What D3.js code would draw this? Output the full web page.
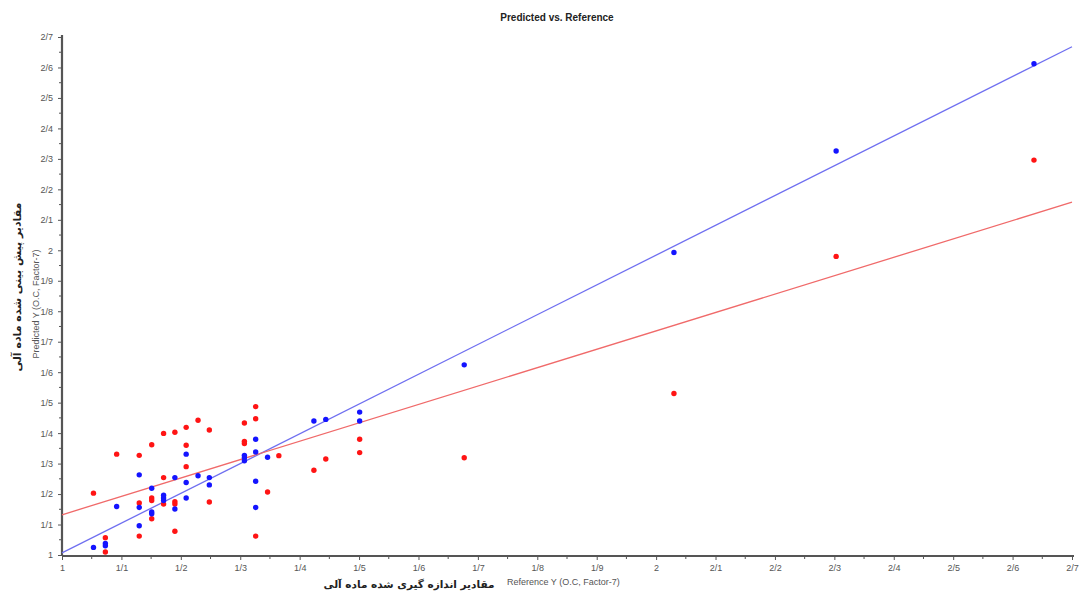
<!DOCTYPE html>
<html><head><meta charset="utf-8">
<script src="https://cdn.jsdelivr.net/npm/d3@7"></script>
<style>body{margin:0;background:#fff;}svg{display:block;}</style>
</head><body>
<svg id="c" width="1080" height="592"></svg>
<script>
// ---- data ----
const blueX = [1.053,1.073,1.073,1.092,1.130,1.130,1.130,1.151,1.151,1.151,1.171,1.171,1.171,1.190,1.190,1.209,1.209,1.209,1.229,1.248,1.248,1.307,1.307,1.307,1.326,1.326,1.326,1.326,1.346,1.424,1.444,1.501,1.501,1.677,2.030,2.303,2.636];
const blueY = [1.025,1.038,1.030,1.159,1.263,1.156,1.096,1.219,1.141,1.135,1.196,1.187,1.179,1.254,1.151,1.331,1.238,1.187,1.260,1.254,1.230,1.327,1.319,1.309,1.380,1.338,1.242,1.156,1.321,1.440,1.445,1.469,1.440,1.624,1.993,2.326,2.612];
const redX = [1.053,1.073,1.073,1.092,1.130,1.130,1.130,1.151,1.151,1.151,1.151,1.171,1.171,1.171,1.190,1.190,1.190,1.190,1.209,1.209,1.209,1.229,1.248,1.248,1.307,1.307,1.307,1.326,1.326,1.326,1.346,1.365,1.424,1.444,1.501,1.501,1.677,2.030,2.303,2.636];
const redY = [1.203,1.057,1.010,1.331,1.327,1.171,1.062,1.362,1.187,1.179,1.119,1.399,1.254,1.167,1.403,1.175,1.167,1.078,1.419,1.360,1.290,1.442,1.410,1.174,1.433,1.373,1.366,1.487,1.447,1.062,1.207,1.326,1.278,1.315,1.380,1.336,1.319,1.530,1.980,2.296];
// fitted lines: [x0, y0, x1, y1]
const blueLine = [1.0, 1.007, 2.7, 2.668];
const redLine = [1.0, 1.132, 2.7, 2.158];
const tickValues = d3.range(10, 28).map(v => v / 10);
const tickLabels = ["1","1/1","1/2","1/3","1/4","1/5","1/6","1/7","1/8","1/9","2","2/1","2/2","2/3","2/4","2/5","2/6","2/7"];
const title = "Predicted vs. Reference";
const xTitleFa = "مقادیر اندازه گیری شده ماده آلی";
const xTitleEn = "Reference Y (O.C, Factor-7)";
const yTitleFa = "مقادیر پیش بینی شده ماده آلی";
const yTitleEn = "Predicted Y (O.C, Factor-7)";

// ---- chart ----
const svg = d3.select("#c");
const x = d3.scaleLinear().domain([1, 2.7]).range([62, 1072]);
const y = d3.scaleLinear().domain([1, 2.7]).range([555, 37]);
const fmt = v => tickLabels[Math.round(v * 10) - 10];
const minor = d3.range(105, 270, 10).map(v => v / 100);

// minor ticks
const axCol = "#555";
const gx = svg.append("g").attr("transform", "translate(0,556)");
gx.selectAll("line.mn").data(minor).join("line").attr("x1", d => x(d)).attr("x2", d => x(d))
  .attr("y1", 0).attr("y2", 3).attr("stroke", axCol).attr("stroke-width", 1);
const xAxis = d3.axisBottom(x).tickValues(tickValues).tickFormat(fmt).tickSize(4).tickPadding(5);
gx.call(xAxis);
const gy = svg.append("g").attr("transform", "translate(62,0)");
gy.selectAll("line.mn").data(minor).join("line").attr("y1", d => y(d)).attr("y2", d => y(d))
  .attr("x1", 0).attr("x2", -3).attr("stroke", axCol).attr("stroke-width", 1);
const yAxis = d3.axisLeft(y).tickValues(tickValues).tickFormat(fmt).tickSize(4).tickPadding(5);
gy.call(yAxis);
[gx, gy].forEach(g => {
  g.select(".domain").attr("stroke", "#555").attr("stroke-width", 2.2);
  g.selectAll(".tick line").attr("stroke", axCol);
  g.selectAll(".tick text").attr("fill", "#555").style("font-family", "Liberation Sans, Arial, sans-serif").style("font-size", "9px");
});
gx.select(".domain").attr("d", "M62,0H1074");
gy.select(".domain").attr("d", "M0,556V35");

// lines
const plotLine = (l, c) => svg.append("line")
  .attr("x1", x(l[0])).attr("y1", y(l[1])).attr("x2", x(l[2])).attr("y2", y(l[3]))
  .attr("stroke", c).attr("stroke-width", 1.3);
plotLine(blueLine, "#6f6ff0");
plotLine(redLine, "#f06a6a");

// points
svg.append("g").selectAll("circle").data(redX.map((v, i) => [v, redY[i]])).join("circle")
  .attr("cx", d => x(d[0])).attr("cy", d => y(d[1])).attr("r", 2.7).attr("fill", "#ff1414");
svg.append("g").selectAll("circle").data(blueX.map((v, i) => [v, blueY[i]])).join("circle")
  .attr("cx", d => x(d[0])).attr("cy", d => y(d[1])).attr("r", 2.7).attr("fill", "#1414ff");

// titles
svg.append("text").attr("x", 557).attr("y", 21).attr("text-anchor", "middle")
  .style("font-family", "Liberation Sans, Arial, sans-serif").style("font-size", "10px").style("font-weight", "bold")
  .attr("fill", "#222").text(title);
svg.append("text").attr("x", 409).attr("y", 588).attr("text-anchor", "middle")
  .style("font-family", "DejaVu Sans, sans-serif").style("font-size", "10.5px").style("font-weight", "bold")
  .attr("fill", "#222").attr("direction", "rtl").text(xTitleFa);
svg.append("text").attr("x", 507).attr("y", 585).attr("text-anchor", "start")
  .style("font-family", "Liberation Sans, Arial, sans-serif").style("font-size", "9px")
  .attr("fill", "#555").text(xTitleEn);
svg.append("text").attr("transform", "translate(21,287) rotate(-90)").attr("text-anchor", "middle")
  .style("font-family", "DejaVu Sans, sans-serif").style("font-size", "11px").style("font-weight", "bold")
  .attr("fill", "#222").attr("direction", "rtl").text(yTitleFa);
svg.append("text").attr("transform", "translate(39,304) rotate(-90)").attr("text-anchor", "middle")
  .style("font-family", "Liberation Sans, Arial, sans-serif").style("font-size", "9px")
  .attr("fill", "#555").text(yTitleEn);
</script>
</body></html>
